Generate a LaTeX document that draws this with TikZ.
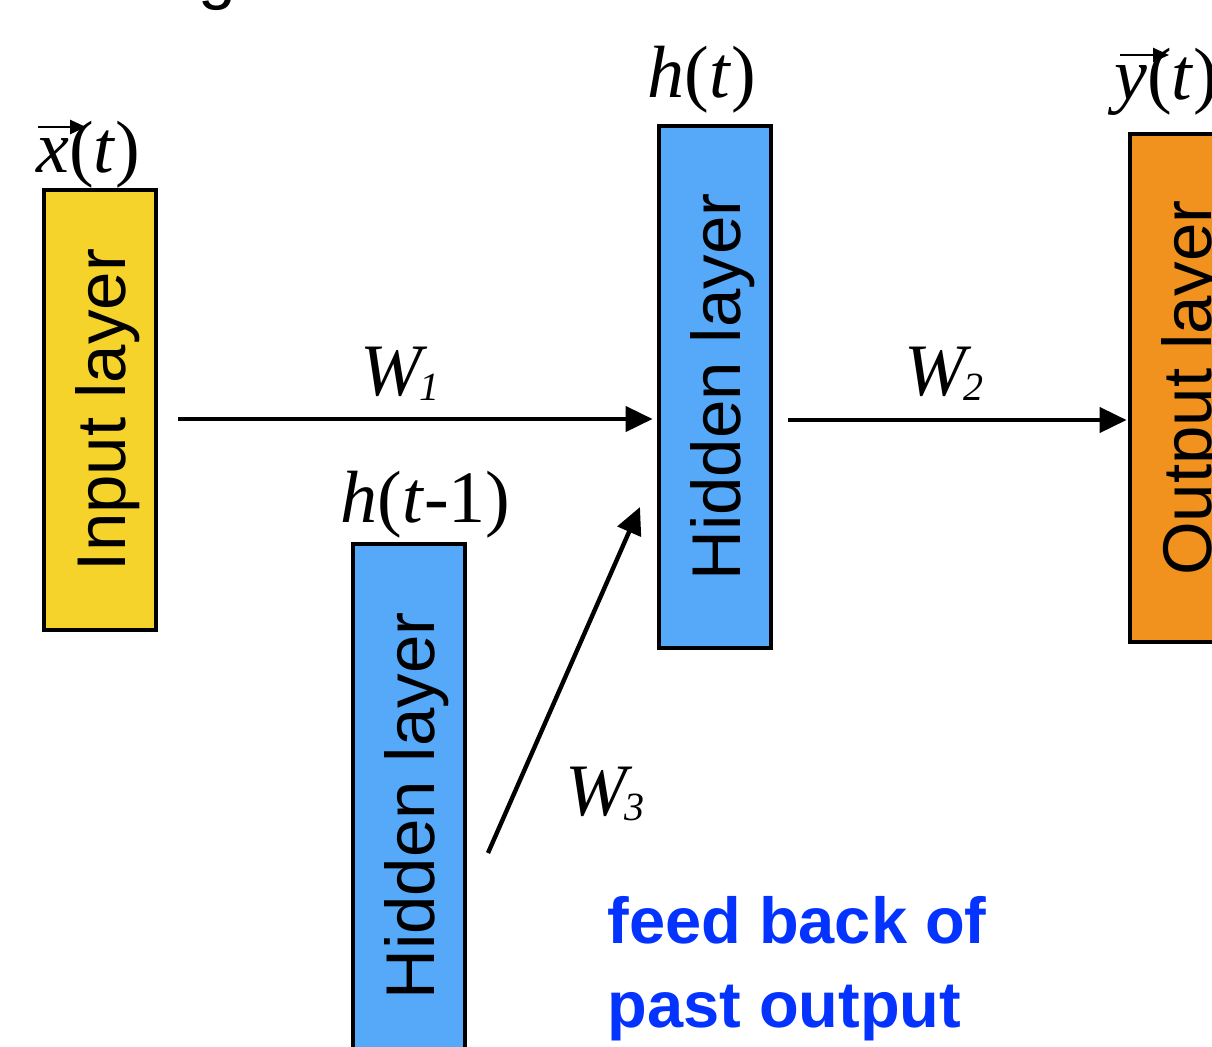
\documentclass[tikz,border=0pt]{standalone}
\usepackage{fontspec}
\setmainfont{Liberation Sans}
\newfontfamily\ser{Liberation Serif}
\usetikzlibrary{arrows.meta}
\definecolor{inyellow}{HTML}{F5D32B}
\definecolor{hidblue}{HTML}{56A8F8}
\definecolor{outorange}{HTML}{F1911E}
\definecolor{noteblue}{HTML}{0433FF}
\newcommand{\lbl}[1]{{\ser\fontsize{37}{37}\selectfont #1}}
\newcommand{\wlbl}[1]{{\ser\fontsize{37}{37}\selectfont\itshape W\kern-1.5pt\raisebox{-2.5pt}{\fontsize{20}{20}\selectfont #1}}}
\newcommand{\vtext}[1]{\rotatebox{90}{\raisebox{0pt}[\height][0pt]{#1}}}
\begin{document}
\begin{tikzpicture}[x=0.5pt,y=-0.5pt,
  layerbox/.style={draw=black,line width=2.4pt,minimum width=56pt,inner sep=0pt,
    font=\fontsize{34.5}{34.5}\selectfont},
  arr/.style={line width=2.2pt,-{Triangle[length=13.5pt,width=12.5pt]}},
  vecarr/.style={line width=1.3pt,-{Triangle[length=8pt,width=7pt]}},
  txt/.style={inner sep=0pt,anchor=base west}]
\useasboundingbox (0,0) rectangle (1212,1046);
% partial title glyph
\node[txt,font=\fontsize{34}{34}\selectfont] (g) at (198,-4) {g};
% boxes
\node[layerbox,fill=inyellow,minimum height=220pt] (in) at (100,410) {\vtext{Input layer}};
\node[layerbox,fill=hidblue,minimum height=261pt] (ht) at (715,387) {\vtext{Hidden layer}};
\node[layerbox,fill=outorange,minimum height=254pt] (out) at (1186,388) {\vtext{Output layer}};
\node[layerbox,fill=hidblue,minimum height=262pt] (hp) at (409,806) {\vtext{Hidden layer}};
% labels
\node[txt] (xl) at (36,172) {\lbl{\textit{x}(\textit{t})}};
\node[txt] (htl) at (647,97) {\lbl{\textit{h}(\textit{t})}};
\node[txt] (yl) at (1114,99) {\lbl{\textit{y}(\textit{t})}};
\node[txt] (hpl) at (340,522) {\lbl{\textit{h}(\textit{t}-1)}};
\draw[vecarr] ([shift={(2,-45)}]xl.base west) -- ([shift={(50,-45)}]xl.base west);
\draw[vecarr] ([shift={(6,-44)}]yl.base west) -- ([shift={(55,-44)}]yl.base west);
% weights
\node[txt] (w1) at (360,395) {\wlbl{1}};
\node[txt] (w2) at (904,395) {\wlbl{2}};
\node[txt] (w3) at (565,815) {\wlbl{3}};
% arrows
\coordinate (a1s) at (178,419);
\coordinate (a2s) at (788,420);
\coordinate (a3s) at (488,853);
\coordinate (a3e) at (640,507);
\draw[arr,shorten >=2pt] (a1s) -- (a1s -| ht.west);
\draw[arr,shorten >=0.5pt] (a2s) -- (a2s -| out.west);
\draw[arr] (a3s) -- (a3e);
% note
\node[txt,text=noteblue,font=\bfseries\fontsize{32.5}{32.5}\selectfont] (n1) at (607,943) {feed back of};
\node[txt,text=noteblue,font=\bfseries\fontsize{32.5}{32.5}\selectfont] (n2) at (607,1027) {past output};
\end{tikzpicture}
\end{document}
